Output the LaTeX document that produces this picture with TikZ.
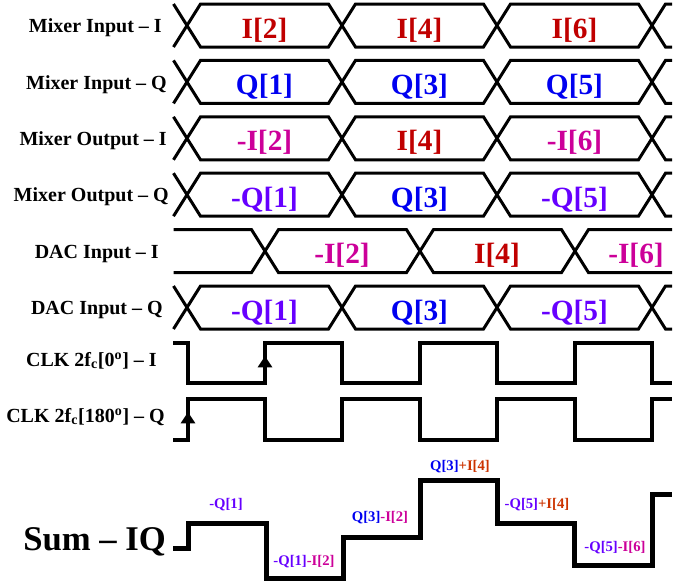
\documentclass[tikz,border=0pt]{standalone}
\usepackage{fontspec}
\setmainfont{Liberation Serif}
\usepackage{tikz}
\usetikzlibrary{arrows.meta}
\usepackage{xcolor}
\definecolor{ired}{HTML}{C00000}
\definecolor{qblue}{HTML}{0000F0}
\definecolor{negi}{HTML}{CC0099}
\definecolor{negq}{HTML}{6600FF}
\definecolor{iorange}{HTML}{CC3300}

\begin{document}
\begin{tikzpicture}[
    x=0.75pt, y=-0.75pt,
    rowlabel/.style={anchor=base east, inner sep=0pt, font=\fontsize{15}{18}\selectfont\bfseries},
    busval/.style={anchor=base, inner sep=0pt, font=\fontsize{22}{26}\selectfont\bfseries},
    sumval/.style={inner sep=0pt, font=\fontsize{11}{13}\selectfont\bfseries},
    bus/.style={line width=2.25pt},
    clkwave/.style={line width=3pt},
    sumwave/.style={line width=3.75pt},
    edgearrow/.style={-{Triangle[width=10.5pt, length=8.5pt]}, line width=3pt}
]
\useasboundingbox (0,0) rectangle (694,583);

% Mixer Input - I
\node[rowlabel] (lmii) at (162,32.5) {Mixer Input -- I};
\draw[bus] (173.5,4) -- ++(27,43) -- ++(128,0) -- ++(27,-43) -- ++(128,0) -- ++(27,43) -- ++(128,0) -- ++(27,-43) -- (672,4);
\draw[bus] (173.5,47) -- ++(27,-43) -- ++(128,0) -- ++(27,43) -- ++(128,0) -- ++(27,-43) -- ++(128,0) -- ++(27,43) -- (672,47);
\node[busval, ired] (mii2) at (264.5,38) {I[2]};
\node[busval, ired] (mii4) at (419.5,38) {I[4]};
\node[busval, ired] (mii6) at (574.5,38) {I[6]};

% Mixer Input - Q
\node[rowlabel] (lmiq) at (167,89) {Mixer Input -- Q};
\draw[bus] (173.5,60.4) -- ++(27,43) -- ++(128,0) -- ++(27,-43) -- ++(128,0) -- ++(27,43) -- ++(128,0) -- ++(27,-43) -- (672,60.4);
\draw[bus] (173.5,103.4) -- ++(27,-43) -- ++(128,0) -- ++(27,43) -- ++(128,0) -- ++(27,-43) -- ++(128,0) -- ++(27,43) -- (672,103.4);
\node[busval, qblue] (miq1) at (264.5,94.4) {Q[1]};
\node[busval, qblue] (miq3) at (419.5,94.4) {Q[3]};
\node[busval, qblue] (miq5) at (574.5,94.4) {Q[5]};

% Mixer Output - I
\node[rowlabel] (lmoi) at (167,145.3) {Mixer Output -- I};
\draw[bus] (173.5,116.8) -- ++(27,43) -- ++(128,0) -- ++(27,-43) -- ++(128,0) -- ++(27,43) -- ++(128,0) -- ++(27,-43) -- (672,116.8);
\draw[bus] (173.5,159.8) -- ++(27,-43) -- ++(128,0) -- ++(27,43) -- ++(128,0) -- ++(27,-43) -- ++(128,0) -- ++(27,43) -- (672,159.8);
\node[busval, negi] (moi2) at (264.5,150.8) {-I[2]};
\node[busval, ired] (moi4) at (419.5,150.8) {I[4]};
\node[busval, negi] (moi6) at (574.5,150.8) {-I[6]};

% Mixer Output - Q
\node[rowlabel] (lmoq) at (169,201.7) {Mixer Output -- Q};
\draw[bus] (173.5,173.2) -- ++(27,43) -- ++(128,0) -- ++(27,-43) -- ++(128,0) -- ++(27,43) -- ++(128,0) -- ++(27,-43) -- (672,173.2);
\draw[bus] (173.5,216.2) -- ++(27,-43) -- ++(128,0) -- ++(27,43) -- ++(128,0) -- ++(27,-43) -- ++(128,0) -- ++(27,43) -- (672,216.2);
\node[busval, negq] (moq1) at (264.5,207.2) {-Q[1]};
\node[busval, qblue] (moq3) at (419.5,207.2) {Q[3]};
\node[busval, negq] (moq5) at (574.5,207.2) {-Q[5]};

% DAC Input - I (half period late)
\node[rowlabel] (ldi) at (159,258.1) {DAC Input -- I};
\draw[bus] (173.5,229.6) -- (251.5,229.6) -- ++(27,43) -- ++(128,0) -- ++(27,-43) -- ++(128,0) -- ++(27,43) -- (672,272.6);
\draw[bus] (173.5,272.6) -- (251.5,272.6) -- ++(27,-43) -- ++(128,0) -- ++(27,43) -- ++(128,0) -- ++(27,-43) -- (672,229.6);
\node[busval, negi] (di2) at (342,263.6) {-I[2]};
\node[busval, ired] (di4) at (497,263.6) {I[4]};
\node[busval, negi] (di6) at (636,263.6) {-I[6]};

% DAC Input - Q
\node[rowlabel] (ldq) at (163,314.5) {DAC Input -- Q};
\draw[bus] (173.5,286) -- ++(27,43) -- ++(128,0) -- ++(27,-43) -- ++(128,0) -- ++(27,43) -- ++(128,0) -- ++(27,-43) -- (672,286);
\draw[bus] (173.5,329) -- ++(27,-43) -- ++(128,0) -- ++(27,43) -- ++(128,0) -- ++(27,-43) -- ++(128,0) -- ++(27,43) -- (672,329);
\node[busval, negq] (dq1) at (264.5,320) {-Q[1]};
\node[busval, qblue] (dq3) at (419.5,320) {Q[3]};
\node[busval, negq] (dq5) at (574.5,320) {-Q[5]};

% Clocks
\node[rowlabel] (lclki) at (157,366) {CLK 2f\textsubscript{c}[0\textsuperscript{o}] -- I};
\draw[clkwave] (173,343) -- (188,343) -- (188,383) -- (265,383) -- (265,343) -- (342,343) -- (342,383) -- (419.5,383) -- (419.5,343) -- (497,343) -- (497,383) -- (574.5,383) -- (574.5,343) -- (652,343) -- (652,383) -- (672,383);
\draw[edgearrow] (265,373) -- (265,356);

\node[rowlabel] (lclkq) at (165,422) {CLK 2f\textsubscript{c}[180\textsuperscript{o}] -- Q};
\draw[clkwave] (173,440) -- (188,440) -- (188,399) -- (265,399) -- (265,440) -- (342,440) -- (342,399) -- (419.5,399) -- (419.5,440) -- (497,440) -- (497,399) -- (574.5,399) -- (574.5,440) -- (652,440) -- (652,399) -- (672,399);
\draw[edgearrow] (188,429) -- (188,412);

% Sum - IQ
\node[anchor=base west, inner sep=0pt, font=\fontsize{26}{30}\selectfont\bfseries] (lsum) at (23,550) {Sum -- IQ};
\draw[sumwave] (173,548) -- (188,548) -- (188,523) -- (266,523) -- (266,578) -- (343,578) -- (343,537) -- (420,537) -- (420,480) -- (497,480) -- (497,523) -- (574,523) -- (574,565) -- (652,565) -- (652,494) -- (672,494);

\node[sumval] (s1) at (226,505) {\textcolor{negq}{-Q[1]}};
\node[sumval] (s2) at (304,562) {\textcolor{negq}{-Q[1]}\textcolor{negi}{-I[2]}};
\node[sumval] (s3) at (380,518) {\textcolor{qblue}{Q[3]}\textcolor{negi}{-I[2]}};
\node[sumval] (s4) at (460,467) {\textcolor{qblue}{Q[3]}\textcolor{iorange}{+I[4]}};
\node[sumval] (s5) at (537,505) {\textcolor{negq}{-Q[5]}\textcolor{iorange}{+I[4]}};
\node[sumval] (s6) at (615,548) {\textcolor{negq}{-Q[5]}\textcolor{negi}{-I[6]}};
\end{tikzpicture}
\end{document}
